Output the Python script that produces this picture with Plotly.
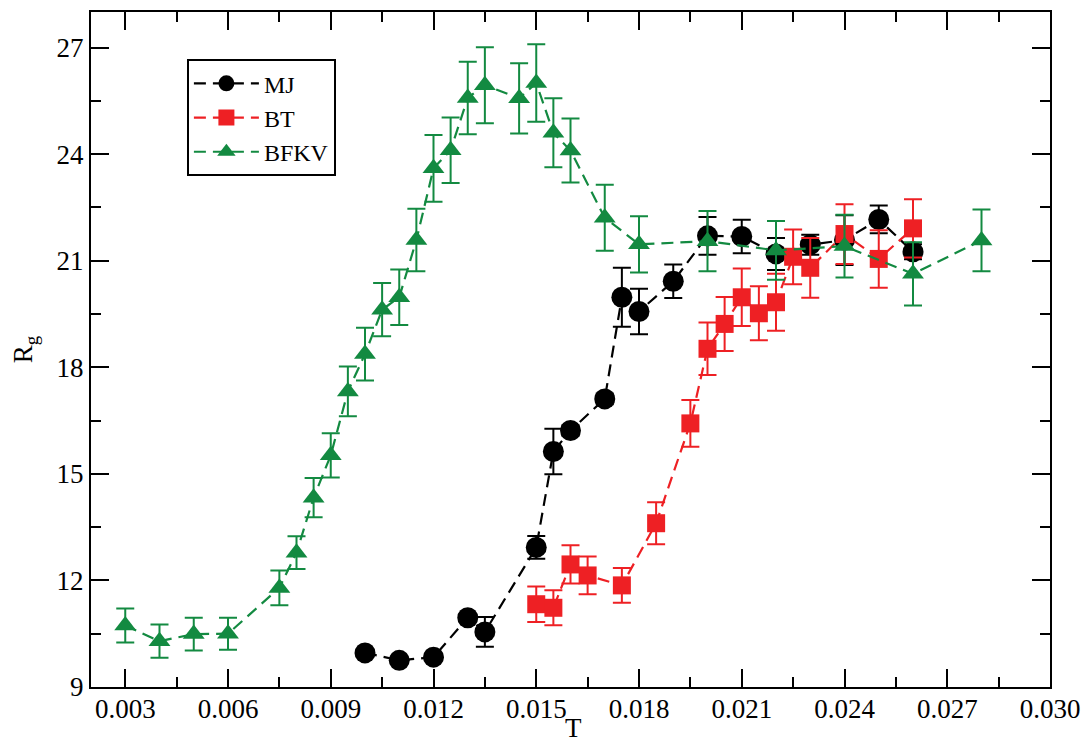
import plotly.graph_objects as go

# ---- data ----
T_MJ = [0.010, 0.011, 0.012, 0.013, 0.0135, 0.015, 0.0155, 0.016, 0.017, 0.0175,
        0.018, 0.019, 0.020, 0.021, 0.022, 0.023, 0.024, 0.025, 0.026]
R_MJ = [9.96, 9.75, 9.84, 10.95, 10.55, 12.93, 15.63, 16.22, 17.11, 19.97,
        19.57, 20.42, 21.70, 21.68, 21.19, 21.45, 21.58, 22.16, 21.25]
E_MJ = [0.08, 0.08, 0.08, 0.10, 0.42, 0.32, 0.64, 0.15, 0.15, 0.83,
        0.64, 0.47, 0.53, 0.47, 0.45, 0.28, 0.70, 0.39, 0.21]

T_BT = [0.015, 0.0155, 0.016, 0.0165, 0.0175, 0.0185, 0.0195, 0.020, 0.0205,
        0.021, 0.0215, 0.022, 0.0225, 0.023, 0.024, 0.025, 0.026]
R_BT = [11.33, 11.23, 12.45, 12.14, 11.86, 13.61, 16.42, 18.52, 19.22,
        19.97, 19.52, 19.83, 21.11, 20.80, 21.75, 21.05, 21.91]
E_BT = [0.50, 0.49, 0.54, 0.53, 0.49, 0.59, 0.66, 0.74, 0.76,
        0.81, 0.76, 0.80, 0.77, 0.84, 0.84, 0.81, 0.82]

T_BFKV = [0.003, 0.004, 0.005, 0.006, 0.0075, 0.008, 0.0085, 0.009, 0.0095, 0.010,
          0.0105, 0.011, 0.0115, 0.012, 0.0125, 0.013, 0.0135, 0.0145, 0.015, 0.0155,
          0.016, 0.017, 0.018, 0.020, 0.022, 0.024, 0.026, 0.028]
R_BFKV = [10.73, 10.29, 10.49, 10.50, 11.79, 12.78, 14.33, 15.52, 17.32, 18.37,
          19.62, 19.97, 21.58, 23.60, 24.11, 25.58, 25.94, 25.57, 26.00, 24.60,
          24.10, 22.21, 21.46, 21.55, 21.29, 21.41, 20.63, 21.57]
E_BFKV = [0.48, 0.47, 0.46, 0.45, 0.49, 0.46, 0.55, 0.62, 0.70, 0.74,
          0.75, 0.78, 0.88, 0.94, 0.92, 1.02, 1.07, 0.99, 1.09, 0.97,
          0.90, 0.93, 0.79, 0.85, 0.83, 0.88, 0.89, 0.87]

BLACK = "#000000"
RED = "#EE2024"
GREEN = "#138A41"
FONT = "Liberation Serif"

fig = go.Figure()

def add(name, x, y, e, color, symbol, size):
    fig.add_trace(go.Scatter(
        x=x, y=y, name=name, mode="lines+markers",
        line=dict(color=color, width=2.2, dash="12px,7px"),
        marker=dict(color=color, symbol=symbol, size=size, line=dict(width=0)),
        error_y=dict(type="data", array=e, visible=True, color=color,
                     thickness=2, width=9),
    ))

add("MJ", T_MJ, R_MJ, E_MJ, BLACK, "circle", 21)
add("BT", T_BT, R_BT, E_BT, RED, "square", 18)
add("BFKV", T_BFKV, R_BFKV, E_BFKV, GREEN, "triangle-up", 19)

axis_common = dict(
    showline=True, linecolor="black", linewidth=2, mirror="ticks",
    ticks="inside", ticklen=18, tickwidth=2, tickcolor="black",
    showgrid=False, zeroline=False, automargin=False,
    tickfont=dict(family=FONT, size=27, color="black"),
)

fig.update_xaxes(
    range=[0.002, 0.0300001], tick0=0.003, dtick=0.003, tickformat=".3f",
    minor=dict(dtick=0.0015, ticks="inside", ticklen=10, tickwidth=2, tickcolor="black"),
    ticklabelstandoff=-3,
    **axis_common,
)
fig.update_yaxes(
    range=[9, 28], tick0=9, dtick=3,
    minor=dict(dtick=1.5, ticks="inside", ticklen=10, tickwidth=2, tickcolor="black"),
    title=dict(text="R<sub>g</sub>", font=dict(family=FONT, size=27, color="black"), standoff=30),
    **axis_common,
)

# x-axis title placed as annotation just below the tick labels
fig.add_annotation(
    text="T", xref="paper", yref="paper", x=0.503, y=-0.061,
    xanchor="center", yanchor="middle", showarrow=False,
    font=dict(family=FONT, size=27, color="black"),
)

# page body adds an ~8px offset, so the figure is sized/positioned to compensate
fig.update_layout(
    width=1081, height=736,
    margin=dict(l=83, r=39, t=4, b=57),
    plot_bgcolor="white", paper_bgcolor="white",
    font=dict(family=FONT, size=27, color="black"),
    legend=dict(
        x=0.1, y=0.93, xanchor="left", yanchor="top",
        bgcolor="white", bordercolor="black", borderwidth=2,
        font=dict(family=FONT, size=24, color="black"),
        tracegroupgap=0, itemwidth=65,
    ),
)

fig.write_html("out.html")
